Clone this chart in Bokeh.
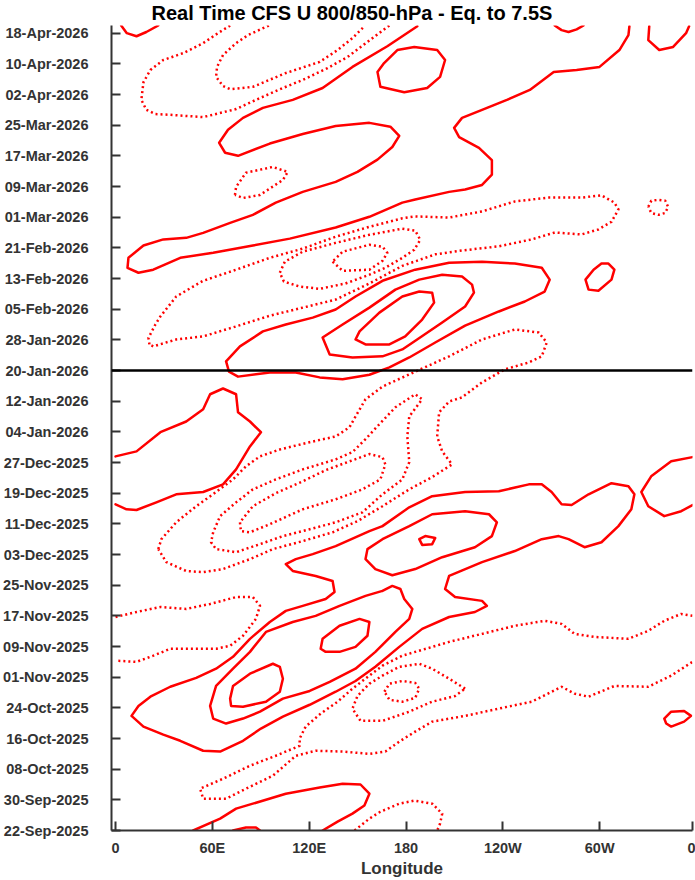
import pandas as pd
from bokeh.plotting import figure
from bokeh.models import Range1d, FixedTicker, Span
from bokeh.embed import file_html
from bokeh.resources import INLINE

# ---------------- text / ticks ----------------
title_text = "Real Time CFS U 800/850-hPa - Eq. to 7.5S"
x_label = "Longitude"
lon_ticks = [0, 60, 120, 180, 240, 300, 357.5]
lon_tick_labels = ["0", "60E", "120E", "180", "120W", "60W", "0"]
date_tick_labels = ["22-Sep-2025", "30-Sep-2025", "08-Oct-2025", "16-Oct-2025",
                    "24-Oct-2025", "01-Nov-2025", "09-Nov-2025", "17-Nov-2025",
                    "25-Nov-2025", "03-Dec-2025", "11-Dec-2025", "19-Dec-2025",
                    "27-Dec-2025", "04-Jan-2026", "12-Jan-2026", "20-Jan-2026",
                    "28-Jan-2026", "05-Feb-2026", "13-Feb-2026", "21-Feb-2026",
                    "01-Mar-2026", "09-Mar-2026", "17-Mar-2026", "25-Mar-2026",
                    "02-Apr-2026", "10-Apr-2026", "18-Apr-2026"]
start_date = "22-Sep-2025"
end_date = "20-Apr-2026"
forecast_start = "20-Jan-2026"
lon_min, lon_max = -2.5, 357.5

# ---------------- contours: [longitude (deg E), days since 22-Sep-2025] ----------------
# positive (westerly) anomaly contours - solid
pos_A = [[3.5, 210], [7, 208], [13, 207.2], [19.1, 208.3], [26.5, 210]]
pos_D = [[187.0, 209.8], [168.4, 204.6], [146.8, 199.2], [128.3, 193.7], [109.8, 190.6],
         [91.3, 188.5], [79.0, 185.9], [69.7, 182.8], [64.2, 179.4], [67.9, 176.8],
         [75.9, 176.0], [95.6, 179.2], [116.0, 181.7], [136.4, 183.8], [157.3, 184.6],
         [170.3, 183.6], [175.8, 181.2], [171.5, 178.3], [162.3, 175.0], [149.9, 171.8],
         [136.4, 169.2], [116.0, 166.6], [99.3, 163.8], [85.1, 160.6], [71.0, 158.5],
         [54.3, 155.9], [43.8, 154.6], [29.6, 154.2], [17.3, 152.6], [8.0, 149.4],
         [7.4, 146.8], [14.2, 145.5], [23.4, 146.3], [40.1, 149.4], [60.5, 150.7],
         [85.1, 152.6], [108.0, 154.4], [136.4, 157.3], [157.3, 160.1], [177.7, 163.8],
         [185.7, 164.6], [206.7, 166.6], [216.6, 167.2], [227.1, 168.4], [233.2, 171.1],
         [233.2, 174.9], [225.2, 178.1], [212.9, 180.9], [209.8, 183.3], [214.7, 185.9],
         [227.1, 188.0], [242.5, 190.6], [256.7, 193.2], [271.5, 197.9], [285.7, 198.4],
         [299.9, 199.2], [312.2, 203.6], [317.8, 207.5], [318.4, 209.8]]
pos_E = [[162.3, 197.9], [166.4, 200.2], [174.6, 203.6], [185.1, 204.4], [199.3, 203.6],
         [204.2, 201.0], [201.1, 196.6], [193.1, 193.7], [178.9, 192.6], [164.1, 194.0]]
pos_F = [[272.1, 210], [276.4, 208.8], [280.7, 208.3], [285.7, 209.0], [290.0, 210]]
pos_G = [[330.7, 209.8], [330.1, 206.2], [336.9, 203.6], [345.5, 204.4], [353.5, 208.0],
         [355.4, 209.8]]
pos_M = [[301.1, 147.9], [305.4, 147.9], [309.1, 146.3], [307.3, 143.7], [299.2, 140.8],
         [293.1, 141.1], [291.2, 143.7], [296.2, 146.3]]
pos_N1 = [[68.5, 122.4], [70.3, 119.7], [75.9, 118.4], [95.6, 119.5], [111.7, 119.5],
          [126.5, 118.2], [140.7, 117.7], [157.3, 118.9], [169.7, 120.8], [182.0, 123.4],
          [198.1, 127.3], [216.6, 131.7], [237.5, 135.4], [253.6, 138.0], [265.9, 140.6],
          [269.0, 143.7], [264.1, 146.8], [247.4, 147.9], [227.1, 148.4], [206.7, 148.1],
          [185.7, 146.3], [165.4, 143.4], [148.7, 139.3], [136.4, 135.9], [122.2, 133.8],
          [105.5, 132.0], [91.3, 130.2], [77.1, 126.3]]
pos_N2 = [[132.7, 124.2], [128.3, 128.6], [140.7, 132.0], [157.3, 136.4], [173.4, 141.1],
          [188.2, 143.7], [202.4, 145.0], [214.7, 144.5], [220.9, 142.4], [222.1, 140.3],
          [216.6, 136.7], [202.4, 132.5], [186.9, 128.1], [177.7, 125.5], [165.4, 123.7],
          [146.8, 123.4]]
pos_N3 = [[196.2, 140.3], [188.2, 140.6], [177.7, 139.3], [163.5, 135.1], [151.2, 130.2],
          [148.7, 128.1], [154.9, 126.8], [169.7, 126.8], [179.5, 128.9], [190.0, 133.3],
          [197.4, 137.7]]
pos_P = [[0, 97.6], [13.0, 98.9], [27.8, 103.9], [43.8, 106.7], [54.3, 109.9], [58.6, 113.8],
         [66.6, 115.3], [74.7, 113.8], [75.9, 109.1], [83.3, 106.7], [90.1, 103.9],
         [83.3, 100.2], [74.7, 94.2], [66.6, 90.3], [54.3, 88.3], [37.6, 87.7], [25.3, 85.6],
         [13.0, 83.6], [6.8, 83.8], [0, 85.1]]
pos_S1 = [[165.4, 79.4], [182.0, 84.3], [196.2, 87.2], [216.6, 88.3], [237.5, 88.5],
          [256.1, 90.3], [264.1, 90.3], [270.2, 88.3], [276.4, 85.1], [282.6, 84.9],
          [293.1, 87.7], [307.3, 90.6], [317.8, 89.8], [321.5, 87.7], [319.6, 83.8],
          [311.6, 79.4], [301.1, 75.2], [290.6, 73.9], [280.7, 76.0], [274.6, 76.8],
          [264.1, 76.0], [247.4, 72.9], [227.1, 70.0], [206.7, 66.4], [204.2, 63.0],
          [210.4, 60.9], [227.1, 59.9], [230.1, 58.6], [222.7, 57.0], [206.7, 55.7],
          [190.0, 52.6], [175.8, 47.9], [161.0, 42.7], [148.7, 39.0], [136.4, 36.2],
          [120.3, 32.8], [103.7, 29.7], [90.1, 26.6], [79.0, 23.4], [64.8, 20.6],
          [54.3, 20.8], [40.1, 23.4], [29.6, 25.0], [17.3, 27.1], [9.9, 29.9], [14.2, 32.5],
          [21.6, 34.9], [33.9, 37.5], [50.0, 39.8], [62.3, 42.2], [72.8, 45.3], [83.3, 50.0],
          [95.6, 54.4], [105.5, 57.3], [116.0, 58.6], [130.2, 60.4], [135.7, 62.2],
          [134.5, 65.1], [124.0, 66.4], [109.8, 67.7], [105.5, 69.5], [111.7, 70.8],
          [122.2, 72.1], [136.4, 74.2], [157.3, 78.1]]
pos_S2 = [[154.9, 70.8], [161.0, 68.2], [171.5, 66.6], [185.7, 68.2], [202.4, 71.3],
          [222.7, 73.9], [233.2, 76.8], [236.3, 80.4], [231.4, 82.5], [216.6, 83.3],
          [196.2, 82.5], [182.0, 79.4], [165.4, 76.0], [156.1, 73.4]]
pos_S3 = [[188.2, 76.0], [191.9, 76.8], [198.1, 76.3], [196.2, 74.7], [190.0, 74.5]]
pos_T2 = [[165.4, 62.5], [171.5, 63.8], [176.5, 63.0], [178.9, 60.4], [183.9, 57.8],
          [182.0, 55.2], [173.4, 51.8], [161.0, 46.6], [148.7, 42.2], [132.7, 38.8],
          [120.3, 36.4], [103.7, 34.4], [89.5, 31.0], [79.0, 29.2], [68.5, 27.9], [60.5, 29.2],
          [58.6, 32.5], [62.3, 37.7], [72.8, 42.2], [83.3, 46.6], [93.2, 51.8], [109.8, 54.4],
          [124.0, 56.0], [138.8, 58.6], [154.9, 61.2]]
pos_T3a = [[127.1, 47.4], [128.3, 50.0], [138.8, 53.4], [151.2, 55.2], [157.3, 54.4],
           [156.1, 50.8], [148.7, 47.9], [138.8, 46.6], [130.2, 46.6]]
pos_T3b = [[71.0, 34.4], [72.8, 37.7], [83.3, 40.9], [97.5, 43.5], [101.8, 42.7], [103.7, 39.6],
           [101.8, 36.2], [93.2, 33.6], [79.0, 32.3], [71.6, 32.5]]
pos_V = [[357.5, 97.4], [344.3, 96.3], [331.9, 92.4], [325.8, 88.3], [330.1, 84.6],
         [340.0, 82.0], [350.5, 83.3], [357.5, 84.9]]
pos_W = [[340.0, 29.2], [344.3, 31.0], [352.3, 31.2], [356.6, 29.9], [352.3, 28.4],
         [344.3, 27.1], [341.2, 27.9]]
pos_X = [[48.1, 0], [64.8, 3.1], [74.7, 5.7], [85.1, 7.0], [105.5, 9.6], [126.5, 11.2],
         [140.7, 12.2], [151.8, 12.0], [157.3, 9.6], [154.2, 6.5], [146.8, 4.4], [137.6, 2.3],
         [128.3, 0]]
pos_Y = [[72.8, 0], [80.8, 0.8], [87.0, 0.8], [89.5, 0]]

# negative (easterly) anomaly contours - dotted
neg_B = [[71.0, 210], [63.5, 208.0], [54.3, 205.4], [42.0, 202.8], [29.6, 201.0], [21.6, 198.4],
         [17.3, 195.2], [16.0, 190.6], [19.1, 188.0], [24.7, 186.9], [33.9, 186.7],
         [54.3, 186.1], [74.7, 188.2], [87.0, 190.6], [103.7, 193.7], [116.0, 195.8],
         [131.4, 198.9], [143.8, 201.8], [156.1, 205.7], [169.7, 210]]
neg_C = [[95.0, 210], [82.1, 207.5], [74.7, 205.4], [66.6, 202.3], [62.9, 199.2], [62.3, 196.6],
         [66.6, 194.2], [71.0, 193.4], [85.1, 194.0], [105.5, 197.6], [126.5, 200.5],
         [137.6, 203.6], [146.8, 206.7], [154.2, 209.8]]
neg_H = [[74.0, 165.8], [74.7, 167.9], [80.8, 171.6], [97.5, 173.1], [106.7, 171.8],
         [103.7, 169.7], [89.5, 165.8], [79.0, 165.0]]
neg_I = [[21.0, 126.8], [20.4, 128.5], [24.7, 132.0], [27.8, 134.1], [37.6, 139.3],
         [48.1, 141.9], [54.3, 143.4], [74.7, 146.3], [95.6, 149.4], [116.0, 151.8],
         [136.4, 154.9], [157.3, 157.5], [177.7, 159.7], [185.7, 160.2], [206.7, 159.9],
         [227.1, 161.5], [247.4, 164.1], [268.4, 165.1], [288.8, 165.1], [301.1, 165.7],
         [309.1, 163.8], [311.6, 162.0], [307.3, 158.8], [299.2, 156.8], [288.8, 155.5],
         [272.1, 156.0], [257.9, 154.2], [237.5, 152.4], [214.7, 151.3], [198.1, 150.3],
         [177.7, 147.3], [157.3, 142.7], [136.4, 138.5], [116.0, 136.4], [95.6, 134.3],
         [74.7, 131.5], [54.3, 128.9], [37.6, 128.1], [23.4, 126.3]]
neg_J = [[101.8, 145.5], [104.9, 148.4], [116.0, 151.0], [136.4, 153.3], [157.3, 155.4],
         [177.7, 157.0], [185.7, 156.5], [188.8, 154.1], [185.1, 151.5], [177.7, 149.4],
         [167.2, 146.8], [157.3, 145.0], [142.5, 142.7], [126.5, 141.3], [114.1, 141.9],
         [104.3, 143.2]]
neg_K = [[134.5, 148.4], [140.7, 146.0], [157.3, 146.3], [165.4, 148.6], [168.4, 150.7],
         [165.4, 152.3], [157.3, 152.8], [140.7, 151.0]]
neg_L = [[330.1, 162.7], [332.0, 164.3], [336.3, 164.5], [340.6, 164.3], [342.4, 162.7],
         [340.6, 161.1], [336.3, 160.6], [332.0, 161.1]]
neg_Q = [[26.5, 73.4], [28.4, 76.0], [37.6, 80.4], [50.0, 84.6], [62.3, 88.3], [72.8, 91.6],
         [80.8, 95.0], [89.5, 97.6], [101.8, 99.4], [120.3, 101.3], [136.4, 102.8],
         [145.0, 105.2], [148.7, 108.0], [154.9, 112.5], [165.4, 115.8], [185.7, 119.7],
         [206.7, 123.7], [227.1, 128.1], [247.4, 130.7], [262.2, 129.9], [267.2, 127.3],
         [264.1, 123.7], [256.1, 122.1], [241.2, 120.3], [227.1, 116.9], [214.7, 113.0],
         [206.7, 111.9], [200.5, 109.1], [199.3, 102.8], [202.4, 98.9], [208.5, 95.5],
         [196.2, 92.2], [182.0, 89.0], [165.4, 84.6], [149.9, 80.7], [134.5, 77.8],
         [116.0, 75.5], [97.5, 73.4], [83.3, 70.8], [66.6, 68.2], [54.3, 67.4], [43.8, 67.7],
         [31.5, 70.0]]
neg_R2 = [[60.5, 77.8], [59.2, 75.2], [62.3, 73.4], [74.7, 72.6], [89.5, 74.7], [103.7, 76.8],
          [120.3, 78.6], [136.4, 80.4], [153.0, 83.0], [165.4, 87.7], [177.7, 91.6],
          [182.0, 96.1], [180.8, 102.8], [182.0, 108.0], [190.0, 112.5], [185.7, 113.8],
          [173.4, 110.4], [163.5, 106.0], [154.9, 102.1], [146.8, 98.7], [136.4, 96.8],
          [116.0, 94.2], [99.3, 91.6], [85.1, 89.0], [74.7, 85.6], [64.8, 82.0]]
neg_R3 = [[77.1, 80.4], [77.7, 78.1], [83.3, 77.8], [95.6, 79.9], [116.0, 83.8], [136.4, 86.4],
          [153.0, 89.0], [164.1, 91.6], [167.2, 95.5], [165.4, 97.4], [157.3, 98.2],
          [145.0, 96.3], [130.2, 94.0], [116.0, 91.1], [99.3, 88.0], [85.1, 84.6]]
neg_X1 = [[0, 55.7], [13.0, 57.0], [27.8, 58.3], [43.8, 57.8], [58.6, 59.1], [74.7, 60.9],
          [85.1, 60.9], [89.5, 58.6], [87.0, 55.2], [79.0, 50.8], [71.0, 48.2], [62.3, 47.4],
          [46.3, 47.4], [33.9, 47.4], [23.4, 45.6], [13.0, 44.0], [0, 44.3]]
neg_Y1 = [[357.5, 56.0], [350.5, 56.5], [340.0, 54.7], [330.1, 52.1], [317.8, 50.0],
          [296.8, 50.5], [284.4, 51.3], [276.4, 53.9], [265.9, 54.7], [247.4, 53.4],
          [227.1, 51.3], [206.7, 49.2], [185.7, 46.6], [177.7, 45.6], [165.4, 43.0],
          [157.3, 40.4], [146.8, 37.0], [137.6, 33.6], [127.1, 30.5], [117.8, 27.1],
          [114.1, 24.0], [114.1, 22.1], [99.3, 19.5], [83.3, 16.9], [66.6, 13.5], [52.4, 10.9],
          [54.3, 8.3], [68.5, 8.3], [80.8, 10.9], [97.5, 14.3], [111.7, 19.5], [124.0, 20.8],
          [140.7, 20.6], [157.3, 20.0], [167.2, 20.6], [175.8, 23.2], [185.7, 25.8],
          [196.2, 28.4], [216.6, 29.9], [237.5, 31.8], [257.9, 33.6], [276.4, 37.5],
          [284.4, 35.7], [293.1, 34.9], [309.1, 37.7], [330.1, 37.5], [344.3, 40.4],
          [357.5, 44.0]]
neg_Y2 = [[216.6, 37.0], [206.7, 39.6], [196.2, 42.2], [188.2, 43.5], [175.8, 42.7],
          [165.4, 40.4], [157.3, 38.3], [149.9, 35.1], [146.8, 31.8], [151.8, 28.6],
          [165.4, 28.6], [182.0, 31.0], [196.2, 33.6], [210.4, 35.1]]
neg_Y3 = [[166.6, 36.2], [169.7, 38.3], [177.7, 39.0], [185.7, 38.5], [188.2, 37.0],
          [185.7, 34.6], [177.7, 33.6], [169.7, 34.1]]
neg_Z = [[148.1, 0], [157.3, 3.1], [164.1, 4.9], [175.8, 7.0], [185.1, 7.8], [196.2, 7.0],
         [202.4, 4.4], [201.1, 1.8], [199.3, 0]]

solid_open = [pos_A, pos_D, pos_F, pos_G, pos_P, pos_V, pos_X, pos_Y]
solid_closed = [pos_E, pos_M, pos_N1, pos_N2, pos_N3, pos_S1, pos_S2, pos_S3,
                pos_T2, pos_T3a, pos_T3b, pos_W]
dotted_open = [neg_B, neg_C, neg_X1, neg_Y1, neg_Z]
dotted_closed = [neg_H, neg_I, neg_J, neg_K, neg_L, neg_Q, neg_R2, neg_R3, neg_Y2, neg_Y3]

# ---------------- helpers ----------------
t0 = pd.to_datetime(start_date, format="%d-%b-%Y")


def day_of(s):
    return (pd.to_datetime(s, format="%d-%b-%Y") - t0).days


def to_xy(open_list, closed_list):
    xs, ys = [], []
    for c in open_list:
        xs.append([pt[0] for pt in c])
        ys.append([pt[1] for pt in c])
    for c in closed_list:
        cc = c + [c[0]]
        xs.append([pt[0] for pt in cc])
        ys.append([pt[1] for pt in cc])
    return xs, ys


date_ticks = [day_of(s) for s in date_tick_labels]
y_top = day_of(end_date)

FONT = "Liberation Sans"
GREY = "#333333"

p = figure(width=695, height=880,
           x_range=Range1d(lon_min, lon_max),
           y_range=Range1d(0, y_top),
           min_border_left=108, min_border_right=3,
           min_border_top=25, min_border_bottom=48,
           output_backend="svg", toolbar_location=None)

p.grid.visible = False
p.outline_line_color = None
p.background_fill_color = "white"
p.border_fill_color = "white"

# title
p.title.text = title_text
p.title.align = "left"
p.title.offset = 40
p.title.standoff = 0
p.title.vertical_align = "top"
p.title.text_font = FONT
p.title.text_font_style = "bold"
p.title.text_font_size = "20px"
p.title.text_color = "black"

# axes
for ax in (p.xaxis[0], p.yaxis[0]):
    ax.axis_line_color = GREY
    ax.axis_line_width = 2
    ax.major_tick_line_color = GREY
    ax.major_tick_line_width = 2
    ax.major_tick_in = 9
    ax.major_tick_out = 0
    ax.minor_tick_line_color = None
    ax.major_label_text_font = FONT
    ax.major_label_text_font_style = "bold"
    ax.major_label_text_font_size = "14.5px"
    ax.major_label_text_color = GREY

p.xaxis.ticker = FixedTicker(ticks=lon_ticks)
p.xaxis.major_label_overrides = {t: l for t, l in zip(lon_ticks, lon_tick_labels)}
p.xaxis.major_label_standoff = 9
p.xaxis.axis_label = x_label
p.xaxis.axis_label_text_font = FONT
p.xaxis.axis_label_text_font_style = "bold"
p.xaxis.axis_label_text_font_size = "17px"
p.xaxis.axis_label_text_color = GREY
p.xaxis.axis_label_standoff = 0

p.yaxis.ticker = FixedTicker(ticks=date_ticks)
p.yaxis.major_label_overrides = {t: l for t, l in zip(date_ticks, date_tick_labels)}
p.yaxis.major_label_standoff = 23

# contours
sx, sy = to_xy(solid_open, solid_closed)
p.multi_line(sx, sy, line_color="#ff0000", line_width=2.5,
             line_join="round", line_cap="round")
dx, dy = to_xy(dotted_open, dotted_closed)
p.multi_line(dx, dy, line_color="#ff0000", line_width=2.5,
             line_dash="2 3", line_join="round")

# forecast start line
p.add_layout(Span(location=day_of(forecast_start), dimension="width",
                  line_color="black", line_width=2.5))

open("out.html", "w").write(file_html(p, INLINE))
